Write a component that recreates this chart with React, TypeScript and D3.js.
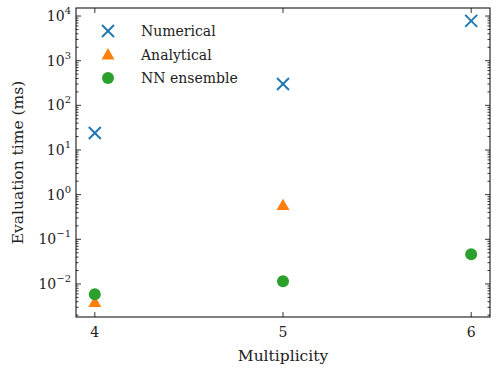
import React from "react";
import * as d3 from "d3";

const multiplicity = [4, 5, 6];
const numerical = [24, 300, 7800];
const analyticalX = [4, 5];
const analytical = [0.0039, 0.58];
const nnEnsemble = [0.0059, 0.0115, 0.046];
const xTicks = [4, 5, 6];
const yDecades = [-2, -1, 0, 1, 2, 3, 4];
const legendLabels = ["Numerical", "Analytical", "NN ensemble"];
const colors = ["#1f77b4", "#ff7f0e", "#2ca02c"];

const W = 498, H = 374;
const L = 76, R = 490, T = 8, B = 317;
const font = "DejaVu Serif";

export default function App() {
  const x = d3.scaleLinear().domain([3.9, 6.1]).range([L, R]);
  const y = d3.scaleLog().domain([Math.pow(10, -2.74), Math.pow(10, 4.18)]).range([B, T]);

  const minor: number[] = [];
  for (let e = -3; e <= 4; e++) {
    for (let m = 2; m <= 9; m++) {
      const v = m * Math.pow(10, e);
      if (v >= y.domain()[0] && v <= y.domain()[1]) minor.push(v);
    }
  }

  const cross = (cx: number, cy: number, s: number, c: string, key: string) => (
    <g key={key} stroke={c} strokeWidth={2}>
      <line x1={cx - s} y1={cy - s} x2={cx + s} y2={cy + s} />
      <line x1={cx - s} y1={cy + s} x2={cx + s} y2={cy - s} />
    </g>
  );
  const tri = (cx: number, cy: number, s: number, c: string, key: string) => (
    <path key={key} d={`M${cx},${cy - s}L${cx + s},${cy + s * 0.75}L${cx - s},${cy + s * 0.75}Z`} fill={c} />
  );
  const circ = (cx: number, cy: number, r: number, c: string, key: string) => (
    <circle key={key} cx={cx} cy={cy} r={r} fill={c} />
  );

  return (
    <svg width={W} height={H} style={{ position: "absolute", left: 0, top: 0, fontFamily: font }}>
      <rect x={0} y={0} width={W} height={H} fill="white" />
      <g stroke="#000" strokeWidth={0.8}>
        {xTicks.map((t) => (
          <g key={"xt" + t}>
            <line x1={x(t)} x2={x(t)} y1={B} y2={B - 5} />
            <line x1={x(t)} x2={x(t)} y1={T} y2={T + 5} />
          </g>
        ))}
        {yDecades.map((e) => {
          const yy = y(Math.pow(10, e));
          return (
            <g key={"yt" + e}>
              <line x1={L} x2={L + 5} y1={yy} y2={yy} />
              <line x1={R} x2={R - 5} y1={yy} y2={yy} />
            </g>
          );
        })}
        {minor.map((v, i) => {
          const yy = y(v);
          return (
            <g key={"ym" + i}>
              <line x1={L} x2={L + 2.5} y1={yy} y2={yy} />
              <line x1={R} x2={R - 2.5} y1={yy} y2={yy} />
            </g>
          );
        })}
      </g>
      <rect x={L} y={T} width={R - L} height={B - T} fill="none" stroke="#000" strokeWidth={1} />
      {xTicks.map((t) => (
        <text key={"xl" + t} x={x(t)} y={B + 20} textAnchor="middle" fontSize={14} fill="#222">
          {t}
        </text>
      ))}
      {yDecades.map((e) => (
        <text key={"yl" + e} x={L - 5} y={y(Math.pow(10, e)) + 5} textAnchor="end" fontSize={14} fill="#222">
          10
          <tspan dy={-7} fontSize={10}>{e < 0 ? "\u2212" + Math.abs(e) : e}</tspan>
        </text>
      ))}
      <text x={(L + R) / 2} y={361} textAnchor="middle" fontSize={15.5} fill="#222">Multiplicity</text>
      <text transform={`translate(23,${(T + B) / 2}) rotate(-90)`} textAnchor="middle" fontSize={15.5} fill="#222">
        Evaluation time (ms)
      </text>
      {multiplicity.map((m, i) => cross(x(m), y(numerical[i]), 6, colors[0], "n" + i))}
      {analyticalX.map((m, i) => tri(x(m), y(analytical[i]), 6.5, colors[1], "a" + i))}
      {multiplicity.map((m, i) => circ(x(m), y(nnEnsemble[i]), 6, colors[2], "c" + i))}
      {legendLabels.map((lab, i) => {
        const ly = 31 + i * 23.5;
        const mk = i === 0 ? cross(108, ly, 6, colors[0], "lm") : i === 1 ? tri(108, ly, 6.5, colors[1], "lm") : circ(108, ly, 6, colors[2], "lm");
        return (
          <g key={"lg" + i}>
            {mk}
            <text x={141} y={ly + 5} fontSize={14} fill="#222">{lab}</text>
          </g>
        );
      })}
    </svg>
  );
}
